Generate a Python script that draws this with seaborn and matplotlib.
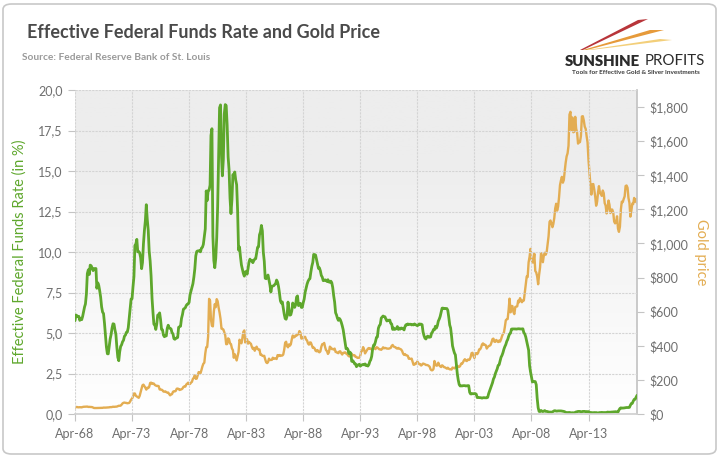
import numpy as np
import pandas as pd
import seaborn as sns
import matplotlib.pyplot as plt
import matplotlib.dates as mdates
from matplotlib.colors import LinearSegmentedColormap
from matplotlib.ticker import FuncFormatter, MultipleLocator
from matplotlib.patches import FancyBboxPatch, Polygon

# monthly data, Apr 1968 - Jul 2017
fed_funds = [
    5.76, 6.11, 6.07, 6.02, 6.03, 5.78, 5.91, 5.82, 6.02,  # 1968 (Apr-Dec)
    6.30, 6.61, 6.79, 7.41, 8.67, 8.90, 8.61, 9.19, 9.15, 9.00, 8.85, 8.97,
    8.98, 8.98, 7.76, 8.10, 7.94, 7.60, 7.21, 6.61, 6.29, 6.20, 5.60, 4.90,
    4.14, 3.72, 3.71, 4.16, 4.63, 4.91, 5.31, 5.57, 5.55, 5.20, 4.91, 4.14,
    3.50, 3.29, 3.83, 4.17, 4.27, 4.46, 4.55, 4.80, 4.87, 5.04, 5.06, 5.33,
    5.94, 6.58, 7.09, 7.12, 7.84, 8.49, 10.40, 10.50, 10.78, 10.01, 10.03, 9.95,
    9.65, 8.97, 9.35, 10.51, 11.31, 11.93, 12.92, 12.01, 11.34, 10.06, 9.45, 8.53,
    7.13, 6.24, 5.54, 5.49, 5.22, 5.55, 6.10, 6.14, 6.24, 5.82, 5.22, 5.20,
    4.87, 4.77, 4.84, 4.82, 5.29, 5.48, 5.31, 5.29, 5.25, 5.02, 4.95, 4.65,
    4.61, 4.68, 4.69, 4.73, 5.35, 5.39, 5.42, 5.90, 6.14, 6.47, 6.51, 6.56,
    6.70, 6.78, 6.79, 6.89, 7.36, 7.60, 7.81, 8.04, 8.45, 8.96, 9.76, 10.03,
    10.07, 10.06, 10.09, 10.01, 10.24, 10.29, 10.47, 10.94, 11.43, 13.77, 13.18, 13.78,
    13.82, 14.13, 17.19, 17.61, 10.98, 9.47, 9.03, 9.61, 10.87, 12.81, 15.85, 18.90,
    19.08, 15.93, 14.70, 15.72, 18.52, 19.10, 19.04, 17.82, 15.87, 15.08, 13.31, 12.37,
    13.22, 14.78, 14.68, 14.94, 14.45, 14.15, 12.59, 10.12, 10.31, 9.71, 9.20, 8.95,
    8.68, 8.51, 8.77, 8.80, 8.63, 8.98, 9.37, 9.56, 9.45, 9.48, 9.34, 9.47,
    9.56, 9.59, 9.91, 10.29, 10.32, 11.06, 11.23, 11.64, 11.30, 9.99, 9.43, 8.38,
    8.35, 8.50, 8.58, 8.27, 7.97, 7.53, 7.88, 7.90, 7.92, 7.99, 8.05, 8.27,
    8.14, 7.86, 7.48, 6.99, 6.85, 6.92, 6.56, 6.17, 5.89, 5.85, 6.04, 6.91,
    6.43, 6.10, 6.13, 6.37, 6.85, 6.73, 6.58, 6.73, 7.22, 7.29, 6.69, 6.77,
    6.83, 6.58, 6.58, 6.87, 7.09, 7.51, 7.75, 8.01, 8.19, 8.30, 8.35, 8.76,
    9.12, 9.36, 9.85, 9.84, 9.81, 9.53, 9.24, 8.99, 9.02, 8.84, 8.55, 8.45,
    8.23, 8.24, 8.28, 8.26, 8.18, 8.29, 8.15, 8.13, 8.20, 8.11, 7.81, 7.31,
    6.91, 6.25, 6.12, 5.91, 5.78, 5.90, 5.82, 5.66, 5.45, 5.21, 4.81, 4.43,
    4.03, 4.06, 3.98, 3.73, 3.82, 3.76, 3.25, 3.30, 3.22, 3.10, 3.09, 2.92,
    3.02, 3.03, 3.07, 2.96, 3.00, 3.04, 3.06, 3.03, 3.09, 2.99, 3.02, 2.96,
    3.05, 3.25, 3.34, 3.56, 4.01, 4.25, 4.26, 4.47, 4.73, 4.76, 5.29, 5.45,
    5.53, 5.92, 5.98, 6.05, 6.01, 6.00, 5.85, 5.74, 5.80, 5.76, 5.80, 5.60,
    5.56, 5.22, 5.31, 5.22, 5.24, 5.27, 5.40, 5.22, 5.30, 5.24, 5.31, 5.29,
    5.25, 5.19, 5.39, 5.51, 5.50, 5.56, 5.52, 5.54, 5.54, 5.50, 5.52, 5.50,
    5.56, 5.51, 5.49, 5.45, 5.49, 5.56, 5.54, 5.55, 5.51, 5.07, 4.83, 4.68,
    4.63, 4.76, 4.81, 4.74, 4.74, 4.76, 4.99, 5.07, 5.22, 5.20, 5.42, 5.30,
    5.45, 5.73, 5.85, 6.02, 6.27, 6.53, 6.54, 6.50, 6.52, 6.51, 6.51, 6.40,
    5.98, 5.49, 5.31, 4.80, 4.21, 3.97, 3.77, 3.65, 3.07, 2.49, 2.09, 1.82,
    1.73, 1.74, 1.73, 1.75, 1.75, 1.75, 1.73, 1.74, 1.75, 1.75, 1.34, 1.24,
    1.24, 1.26, 1.25, 1.26, 1.26, 1.22, 1.01, 1.03, 1.01, 1.01, 1.00, 0.98,
    1.00, 1.01, 1.00, 1.00, 1.00, 1.03, 1.26, 1.43, 1.61, 1.76, 1.93, 2.16,
    2.28, 2.50, 2.63, 2.79, 3.00, 3.04, 3.26, 3.50, 3.62, 3.78, 4.00, 4.16,
    4.29, 4.49, 4.59, 4.79, 4.94, 4.99, 5.24, 5.25, 5.25, 5.25, 5.25, 5.24,
    5.25, 5.26, 5.26, 5.25, 5.25, 5.25, 5.26, 5.02, 4.94, 4.76, 4.49, 4.24,
    3.94, 2.98, 2.61, 2.28, 1.98, 2.00, 2.01, 2.00, 1.81, 0.97, 0.39, 0.16,
    0.15, 0.22, 0.18, 0.15, 0.18, 0.21, 0.16, 0.16, 0.15, 0.12, 0.12, 0.12,
    0.11, 0.13, 0.16, 0.20, 0.20, 0.18, 0.18, 0.19, 0.19, 0.19, 0.19, 0.18,
    0.17, 0.16, 0.14, 0.10, 0.09, 0.09, 0.07, 0.10, 0.08, 0.07, 0.08, 0.07,
    0.08, 0.10, 0.13, 0.14, 0.16, 0.16, 0.16, 0.13, 0.14, 0.16, 0.16, 0.16,
    0.14, 0.15, 0.14, 0.15, 0.11, 0.09, 0.09, 0.08, 0.08, 0.09, 0.08, 0.09,
    0.07, 0.07, 0.08, 0.09, 0.09, 0.10, 0.09, 0.09, 0.09, 0.09, 0.09, 0.12,
    0.11, 0.11, 0.11, 0.12, 0.12, 0.13, 0.13, 0.14, 0.14, 0.12, 0.12, 0.24,
    0.34, 0.38, 0.36, 0.37, 0.37, 0.38, 0.39, 0.40, 0.40, 0.40, 0.41, 0.54,
    0.65, 0.66, 0.79, 0.90, 0.91, 1.04, 1.15,  # 2017 (Jan-Jul)
]

gold = [
    37.7, 40.5, 41.1, 39.5, 39.2, 40.0, 39.3, 39.0, 41.1,  # 1968 (Apr-Dec)
    42.3, 42.6, 43.4, 43.3, 43.5, 41.4, 41.8, 41.1, 40.9, 40.4, 37.4, 35.2,
    34.9, 35.0, 35.1, 35.6, 35.9, 35.5, 35.3, 35.4, 36.2, 37.5, 37.4, 37.4,
    37.9, 38.7, 38.9, 39.0, 40.5, 40.1, 41.0, 42.7, 42.0, 42.5, 42.9, 43.5,
    45.8, 48.3, 48.3, 49.0, 54.6, 62.1, 65.7, 67.0, 65.5, 64.9, 62.9, 63.9,
    65.1, 74.2, 84.4, 90.5, 102.0, 120.1, 120.2, 106.8, 103.0, 100.1, 94.8, 106.7,
    129.2, 150.2, 168.4, 172.2, 163.1, 154.1, 143.0, 154.6, 151.8, 158.8, 181.7, 183.9,
    176.3, 179.6, 178.2, 169.9, 167.4, 164.2, 165.2, 163.1, 144.1, 142.8, 142.8, 139.3,
    131.6, 131.0, 132.6, 128.2, 125.6, 125.7, 117.6, 109.3, 114.3, 116.4, 130.3, 133.6,
    132.3, 136.3, 148.2, 149.2, 146.6, 140.8, 143.3, 144.8, 149.4, 158.7, 162.1, 160.5,
    173.2, 178.2, 183.8, 175.2, 176.3, 183.9, 188.8, 206.5, 212.8, 227.3, 206.0, 207.8,
    227.3, 245.7, 242.1, 239.2, 257.6, 279.1, 294.7, 300.8, 355.1, 391.7, 392.5, 455.1,
    675.3, 665.3, 553.6, 517.4, 513.8, 600.7, 644.3, 626.5, 673.6, 661.2, 623.5, 594.9,
    557.5, 500.5, 498.8, 495.8, 479.7, 460.8, 409.3, 410.1, 443.6, 437.8, 413.4, 410.1,
    384.4, 374.2, 330.0, 350.6, 333.6, 314.0, 338.6, 364.3, 435.6, 422.2, 414.6, 444.3,
    481.3, 490.2, 419.7, 432.8, 438.4, 412.6, 422.7, 416.3, 411.8, 393.6, 381.7, 388.3,
    370.9, 386.0, 394.8, 381.6, 377.6, 378.4, 347.3, 347.8, 341.2, 340.2, 341.2, 319.9,
    303.0, 298.5, 304.0, 324.6, 316.5, 316.9, 317.4, 330.2, 323.2, 325.7, 325.3, 322.5,
    345.4, 339.2, 345.9, 340.4, 342.6, 342.6, 348.8, 376.6, 418.2, 423.7, 398.1, 391.0,
    408.2, 401.1, 408.9, 438.4, 460.2, 449.6, 451.0, 461.0, 460.1, 464.9, 469.2, 486.3,
    477.6, 442.1, 443.6, 452.1, 451.2, 452.6, 436.9, 431.3, 413.5, 406.8, 419.8, 418.7,
    404.0, 387.8, 390.2, 384.3, 371.0, 367.6, 375.0, 365.4, 361.8, 366.9, 394.3, 409.5,
    410.1, 416.8, 393.1, 374.3, 369.1, 352.3, 361.2, 394.9, 389.3, 380.8, 381.7, 378.2,
    383.6, 363.8, 363.3, 358.4, 356.8, 366.7, 367.7, 356.4, 348.8, 358.7, 359.6, 361.7,
    354.5, 354.0, 344.3, 338.6, 337.2, 340.8, 352.8, 343.0, 345.4, 344.4, 335.0, 334.6,
    329.0, 329.3, 330.1, 342.2, 367.2, 371.4, 392.3, 378.7, 355.3, 364.2, 373.8, 383.3,
    386.9, 381.9, 384.1, 377.3, 381.4, 385.6, 385.5, 380.4, 391.6, 389.8, 384.4, 379.3,
    378.6, 376.5, 382.1, 391.0, 385.2, 387.6, 386.2, 383.6, 383.1, 383.1, 385.5, 387.4,
    399.5, 404.8, 396.2, 392.8, 391.9, 385.3, 383.5, 387.5, 383.1, 381.1, 377.9, 369.3,
    354.1, 346.6, 351.8, 344.5, 343.8, 340.8, 324.1, 324.0, 322.8, 324.9, 306.0, 288.7,
    289.3, 297.5, 295.9, 308.3, 299.1, 292.3, 292.9, 284.1, 288.9, 296.0, 294.1, 291.6,
    287.3, 287.3, 286.0, 282.4, 276.8, 261.3, 256.2, 256.7, 264.7, 310.7, 293.2, 283.4,
    284.6, 300.9, 286.4, 279.7, 275.2, 285.7, 281.6, 274.5, 273.7, 270.0, 266.0, 271.5,
    265.5, 261.9, 263.0, 260.5, 272.4, 270.2, 267.5, 272.4, 283.4, 283.1, 276.2, 275.9,
    281.7, 295.5, 294.0, 302.7, 314.5, 321.2, 313.3, 310.3, 319.2, 316.6, 319.2, 333.4,
    356.9, 359.0, 340.6, 328.2, 355.7, 356.4, 351.0, 359.8, 378.9, 378.9, 389.9, 407.6,
    414.0, 405.3, 406.7, 403.0, 383.8, 392.4, 398.1, 400.5, 405.3, 420.5, 439.4, 442.1,
    424.0, 423.4, 434.2, 428.9, 421.9, 430.7, 424.5, 437.9, 456.0, 469.9, 476.7, 510.1,
    549.9, 555.0, 557.1, 610.6, 676.5, 596.2, 633.7, 632.6, 598.2, 585.8, 627.8, 629.8,
    631.2, 664.8, 654.9, 679.4, 666.9, 655.5, 665.3, 665.4, 712.7, 754.6, 806.3, 803.2,
    889.6, 922.3, 968.4, 909.7, 888.7, 889.5, 939.8, 839.0, 829.9, 806.6, 760.9, 816.1,
    858.7, 943.2, 924.3, 890.2, 928.6, 945.7, 934.2, 949.4, 996.6, 1043.2, 1127.0, 1134.7,
    1117.9, 1095.4, 1113.3, 1148.7, 1205.4, 1232.9, 1192.9, 1215.8, 1271.0, 1342.0, 1369.9, 1390.6,
    1356.4, 1372.7, 1424.0, 1473.8, 1510.4, 1528.7, 1572.8, 1755.8, 1771.9, 1665.2, 1738.9, 1652.2,
    1656.1, 1742.6, 1673.8, 1650.1, 1585.5, 1596.7, 1594.3, 1630.3, 1744.5, 1746.6, 1721.6, 1684.8,
    1671.9, 1627.6, 1593.1, 1487.9, 1414.0, 1343.4, 1286.7, 1347.1, 1348.6, 1316.6, 1275.8, 1221.5,
    1244.3, 1299.6, 1336.1, 1298.5, 1288.7, 1279.1, 1310.6, 1295.1, 1236.6, 1222.5, 1176.3, 1200.6,
    1251.8, 1227.1, 1178.6, 1198.9, 1198.6, 1181.5, 1128.3, 1117.9, 1124.9, 1159.3, 1086.4, 1068.3,
    1097.9, 1199.5, 1245.1, 1242.3, 1260.9, 1276.4, 1336.7, 1340.2, 1326.6, 1266.6, 1238.4, 1157.4,
    1192.1, 1234.2, 1231.1, 1266.9, 1246.0, 1260.3, 1236.8,  # 2017 (Jan-Jul)
]

dates = pd.date_range("1968-04-01", periods=len(fed_funds), freq="MS")
tick_years = [1968, 1973, 1978, 1983, 1988, 1993, 1998, 2003, 2008, 2013]

title = "Effective Federal Funds Rate and Gold Price"
subtitle = "Source: Federal Reserve Bank of St. Louis"

GREEN = "#5ea72c"
GOLD = "#e3ad52"
TICK = "#6f6f6f"

sns.set_theme(style="white")
plt.rcParams["font.family"] = ["Lato", "DejaVu Sans"]

W, H = 720, 458
fig = plt.figure(figsize=(7.2, 4.58), dpi=100)
fig.patch.set_facecolor("white")

# rounded frame around the whole card
fig.patches.append(FancyBboxPatch((3 / W, 4 / H), 713 / W, 450 / H,
                                  boxstyle="round,pad=0,rounding_size=0.012",
                                  transform=fig.transFigure, fc="white",
                                  ec="#c8c8c8", lw=1.2, zorder=-5))

rect = [75 / W, 1 - 414 / H, 562 / W, 324 / H]

# grey-to-white gradient behind the plot, on its own axes
bg = fig.add_axes(rect, zorder=0)
grad = np.linspace(1, 0, 256).reshape(-1, 1)
grad = np.clip(grad * 1.25, 0, 1)
bg_cmap = LinearSegmentedColormap.from_list("bg", ["#ffffff", "#ededed"])
bg.imshow(grad, cmap=bg_cmap, aspect="auto", extent=[0, 1, 0, 1], vmin=0, vmax=1)
bg.set_axis_off()

ax = fig.add_axes(rect, zorder=2)
ax.patch.set_visible(False)
ax2 = ax.twinx()
ax2.set_zorder(1)
ax2.patch.set_visible(False)

df = pd.DataFrame({"date": dates, "fed": fed_funds, "gold": gold})

sns.lineplot(data=df, x="date", y="gold", ax=ax2, color=GOLD, lw=1.7)
sns.lineplot(data=df, x="date", y="fed", ax=ax, color=GREEN, lw=2.0)

ax.set_ylim(0, 20)
ax2.set_ylim(0, 1900)
ax.set_xlim(pd.Timestamp("1968-04-01"), pd.Timestamp("2017-07-01"))

ax.yaxis.set_major_locator(MultipleLocator(2.5))
ax.yaxis.set_major_formatter(FuncFormatter(lambda v, p: f"{v:.1f}".replace(".", ",")))
ax2.set_yticks(np.arange(0, 1801, 200))
ax2.yaxis.set_major_formatter(FuncFormatter(lambda v, p: f"${v:,.0f}"))

ax.set_xticks([pd.Timestamp(f"{y}-04-01") for y in tick_years])
ax.xaxis.set_major_formatter(mdates.DateFormatter("%b-%y"))

ax.grid(True, color="#d4d4d4", lw=0.8, ls=(0, (2, 1)))
ax.set_axisbelow(True)
ax2.grid(False)

for a in (ax, ax2):
    for s in a.spines.values():
        s.set_visible(False)
ax2.spines["right"].set_visible(True)
ax2.spines["right"].set_color("#c4c4c4")
ax.spines["bottom"].set_visible(True)
ax.spines["bottom"].set_color("#d0d0d0")

ax.tick_params(axis="y", length=5, width=0.8, color="#c4c4c4", labelsize=9,
               labelcolor=TICK, pad=4, left=True)
ax.tick_params(axis="x", length=5, width=0.8, color="#c4c4c4", labelsize=9,
               labelcolor=TICK, pad=5, bottom=True)
ax2.tick_params(axis="y", length=5, width=0.8, color="#c4c4c4", labelsize=9,
                labelcolor=TICK, pad=4, right=True)

ax.set_xlabel("")
ax.set_ylabel("Effective Federal Funds Rate (in %)", color=GREEN, fontsize=10.5, labelpad=8)
ax2.set_ylabel("Gold price", color=GOLD, fontsize=10.5, rotation=270, labelpad=14)

fig.text(27 / W, 1 - 33 / H, title, fontsize=13, fontweight="bold", color="#4a4a4a",
         va="center", ha="left")
fig.text(22 / W, 1 - 57 / H, subtitle, fontsize=7.3, fontweight="bold", color="#9a9a9a",
         va="center", ha="left")


# logo
def px(x, y):
    return (x / W, 1 - y / H)


for pts, c in [
    ([(580, 50), (638, 20), (648, 19), (583, 50)], "#b8353a"),
    ([(583, 50), (650, 30), (664, 30), (587, 50)], "#e69a3a"),
    ([(587, 50), (660, 39), (672, 40), (591, 50)], "#f3cf7a"),
]:
    fig.patches.append(Polygon([px(*p) for p in pts], closed=True, transform=fig.transFigure,
                               fc=c, ec="none"))
fig.text(*px(565, 61), "SUNSHINE", fontsize=10.8, fontweight="heavy", color="#2b2b2b",
         va="center", ha="left")
fig.text(*px(705, 61), "PROFITS", fontsize=10.8, color="#2b2b2b", va="center", ha="right")
fig.text(*px(636, 72.5), "Tools for Effective Gold & Silver Investments", fontsize=4.6,
         color="#3a3a3a", va="center", ha="center", fontweight="bold")

fig.savefig("out.png", dpi=100)
